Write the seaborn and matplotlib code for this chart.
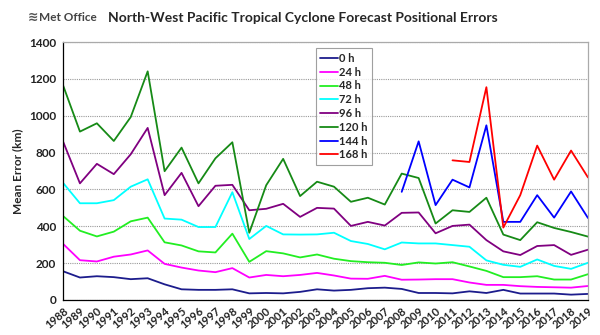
import numpy as np
import pandas as pd
import matplotlib
matplotlib.use("Agg")
import matplotlib.pyplot as plt
import seaborn as sns

years = list(range(1988, 2020))
nan = np.nan
e0 = [156, 122, 129, 124, 113, 118, 85, 58, 55, 55, 58, 36, 38, 36, 44, 58, 51, 55, 64, 67, 60, 38, 38, 36, 47, 38, 55, 35, 35, 35, 29, 33]
e24 = [305, 216, 209, 235, 247, 269, 196, 176, 160, 151, 173, 122, 136, 129, 136, 147, 133, 116, 115, 131, 110, 111, 113, 113, 95, 82, 82, 75, 71, 69, 67, 76]
e48 = [456, 376, 345, 371, 427, 447, 313, 296, 264, 258, 360, 207, 265, 253, 231, 247, 224, 211, 205, 202, 190, 204, 198, 205, 182, 158, 124, 124, 129, 111, 111, 140]
e72 = [636, 525, 525, 542, 615, 655, 442, 436, 396, 396, 585, 331, 402, 356, 355, 356, 365, 320, 304, 275, 312, 307, 307, 298, 289, 215, 191, 180, 220, 185, 169, 202]
e96 = [861, 633, 739, 683, 791, 934, 569, 690, 509, 620, 625, 487, 495, 522, 451, 500, 496, 402, 424, 404, 473, 475, 362, 402, 409, 325, 264, 244, 293, 298, 245, 273]
e120 = [1166, 914, 959, 863, 993, 1241, 699, 827, 633, 769, 856, 365, 623, 766, 564, 642, 615, 533, 555, 518, 686, 662, 415, 487, 478, 555, 355, 325, 422, 391, 369, 344]
e144 = [nan] * 20 + [587, 861, 515, 653, 611, 948, 424, 424, 569, 447, 589, 445]
e168 = [nan] * 23 + [758, 749, 1155, 393, 569, 838, 653, 811, 665]

labels = ["0 h", "24 h", "48 h", "72 h", "96 h", "120 h", "144 h", "168 h"]
series = [e0, e24, e48, e72, e96, e120, e144, e168]
colors = ["#1c1c8c", "#ff00ff", "#22ee22", "#00ffff", "#800080", "#168a16", "#0000ff", "#ff0000"]

frames = []
for lab, vals in zip(labels, series):
    frames.append(pd.DataFrame({"Year": years, "Error": vals, "Lead": lab}))
df = pd.concat(frames, ignore_index=True).dropna()

sns.set_style("white")
plt.rcParams['font.family'] = ['Lato', 'DejaVu Sans']

fig = plt.figure(figsize=(6, 3.35), dpi=100)
ax = fig.add_axes([0.105, 0.1045, 0.875, 0.770])

sns.lineplot(data=df, x="Year", y="Error", hue="Lead", hue_order=labels,
             palette=dict(zip(labels, colors)), linewidth=1.3, ax=ax,
             estimator=None, sort=True)

ax.set_xlim(1988, 2019)
ax.set_ylim(0, 1400)
ax.set_yticks(range(0, 1401, 200))
ax.set_xticks(years)
ax.set_xticklabels([str(y) for y in years], rotation=40, ha="right",
                   rotation_mode="anchor", fontsize=8, fontweight="bold",
                   color="#222222")
for t in ax.get_yticklabels():
    t.set_fontsize(8.5)
    t.set_fontweight("bold")
    t.set_color("#222222")
ax.tick_params(axis="both", direction="out", length=3, width=0.8, color="black", pad=2)
ax.tick_params(axis="x", pad=1)
ax.yaxis.grid(True, linestyle=(0, (1, 1)), color="#999999", linewidth=0.8)
ax.xaxis.grid(False)
ax.set_axisbelow(True)

for s in ["left", "bottom"]:
    ax.spines[s].set_color("black")
    ax.spines[s].set_linewidth(0.9)
for s in ["top", "right"]:
    ax.spines[s].set_color("#aaaaaa")
    ax.spines[s].set_linewidth(0.9)

ax.set_xlabel("")
ax.set_ylabel("Mean Error (km)", fontsize=8.5, fontweight="bold", labelpad=4)

leg = ax.legend(loc="upper left", bbox_to_anchor=(0.482, 0.975), frameon=True,
                fancybox=False, edgecolor="#888888", fontsize=8,
                handlelength=1.6, handletextpad=0.1, labelspacing=0.25,
                borderpad=0.4, borderaxespad=0)
for t in leg.get_texts():
    t.set_fontweight("bold")
leg.get_frame().set_linewidth(0.8)

fig.text(0.505, 0.945, "North-West Pacific Tropical Cyclone Forecast Positional Errors",
         ha="center", va="center", fontsize=10, fontweight="bold")
fig.text(0.047, 0.947, "≋", ha="left", va="center", fontsize=9,
         color="#555555", fontweight="bold", family=['DejaVu Sans'])
fig.text(0.065, 0.947, "Met Office", ha="left", va="center", fontsize=8.5,
         color="#444444", fontweight="bold")

fig.savefig("out.png", dpi=100)
